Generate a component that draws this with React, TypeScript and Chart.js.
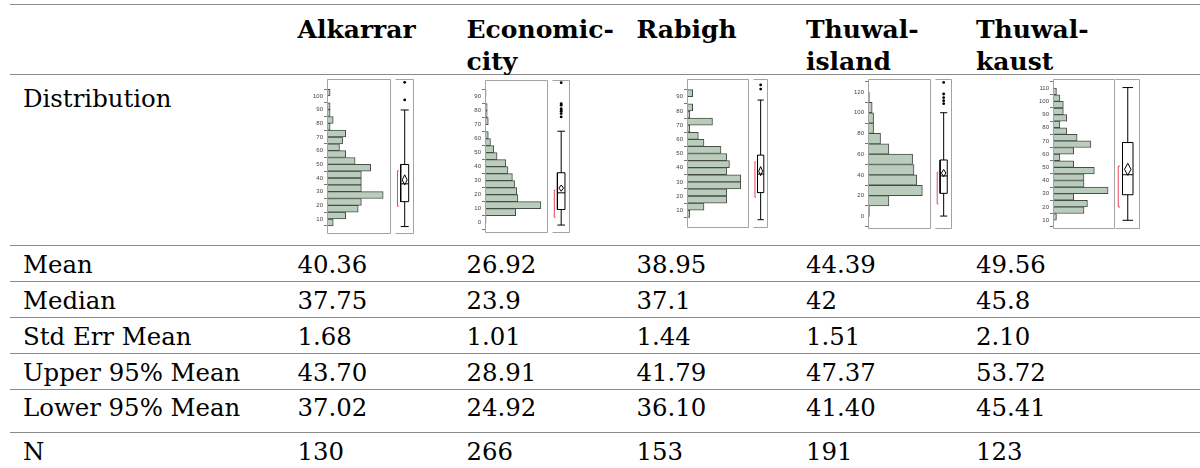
import React, { useEffect, useRef } from 'react';
import { Chart, registerables } from 'chart.js';
Chart.register(...registerables);

// ---------------- DATA ----------------
const headerLines: string[][] = [
  ['Alkarrar'],
  ['Economic-', 'city'],
  ['Rabigh'],
  ['Thuwal-', 'island'],
  ['Thuwal-', 'kaust'],
];
const distributionLabel = 'Distribution';
const rowLabels = ['Mean', 'Median', 'Std Err Mean', 'Upper 95% Mean', 'Lower 95% Mean', 'N'];

const meanText = ['40.36', '26.92', '38.95', '44.39', '49.56'];
const medianText = ['37.75', '23.9', '37.1', '42', '45.8'];
const stdErrText = ['1.68', '1.01', '1.44', '1.51', '2.10'];
const upper95Text = ['43.70', '28.91', '41.79', '47.37', '53.72'];
const lower95Text = ['37.02', '24.92', '36.10', '41.40', '45.41'];
const nText = ['130', '266', '153', '191', '123'];

// histogram bins: first lower edge, bin width, counts (ascending)
const binFirst = [5, 0, 5, 0, 10];
const binWidth = [5, 5, 5, 10, 5];
const alkarrarCounts = [2, 6, 10, 11, 18, 11, 11, 11, 14, 9, 6, 4, 5, 6, 1, 2, 1, 1, 0, 1];
const economicCounts = [1, 28, 51, 30, 29, 27, 25, 21, 19, 11, 8, 5, 3, 0, 3, 2, 2, 0, 1];
const rabighCounts = [1, 6, 14, 14, 19, 19, 14, 15, 14, 12, 6, 4, 1, 9, 1, 2, 0, 2];
const islandCounts = [1, 15, 39, 35, 33, 32, 15, 9, 4, 4, 3, 1];
const kaustCounts = [1, 9, 10, 6, 16, 9, 9, 12, 6, 2, 6, 11, 7, 4, 2, 4, 3, 3, 2, 1];
const allCounts = [alkarrarCounts, economicCounts, rabighCounts, islandCounts, kaustCounts];

// axis ranges
const yAxisMin = [4.7, -1.9, 3.3, -1.9, 8.4];
const yAxisMax = [106.8, 96.4, 96.7, 122.2, 111.8];
const countAxisMax = [20.5, 57.5, 21.9, 45.2, 18];
const tickAlkarrar = [10, 20, 30, 40, 50, 60, 70, 80, 90, 100];
const tickEconomic = [0, 10, 20, 30, 40, 50, 60, 70, 80, 90];
const tickRabigh = [10, 20, 30, 40, 50, 60, 70, 80, 90];
const tickIsland = [0, 20, 40, 60, 80, 100, 120];
const tickKaust = [10, 20, 30, 40, 50, 60, 70, 80, 90, 100, 110];
const allTicks = [tickAlkarrar, tickEconomic, tickRabigh, tickIsland, tickKaust];

// box plot statistics
const whiskerLow = [9.6, 3.2, 8.5, 8.8, 14.4];
const quartile1 = [26, 13.2, 25.5, 27.6, 32];
const medianVal = [37.75, 23.9, 37.1, 42, 45.8];
const quartile3 = [50.5, 36.8, 49, 55.2, 68];
const whiskerHigh = [86.4, 63.5, 83.5, 94.3, 105.9];
const outliers: number[][] = [
  [93, 104.6],
  [72.7, 74.8, 76.3, 77.2, 78, 80.2, 81.2, 94.7],
  [90.4, 93],
  [101.8, 104.3, 106.8, 109.8, 119.4],
  [],
];
const shortestHalfLow = [22.9, 8.2, 22.6, 18.8, 23.6];
const shortestHalfHigh = [46.4, 25.7, 44.8, 45, 51.7];

// ---------------- LAYOUT ----------------
const frameLeft = [327, 485, 687, 868, 1053];
const frameMid = [391, 548, 749, 931, 1115];
const frameRight = [417, 573, 771, 955, 1140];
const frameTop = [79, 80, 79, 79, 79];
const frameBottom = [234, 233, 228, 229, 229];
const PAD = 6;
const AXW = 24;

const colX = [297.5, 466.5, 636.5, 806, 976];
const labelX = 23;
const rowBaselines = [274, 310, 346, 382, 417, 461];
const ruleYs = [4, 74, 245, 281, 317, 353, 389, 432];
const FONT = "'DejaVu Serif', serif";
const FS = 24.4;
const HFS = 25;
const ASC_RATIO = 0.846;

const BAR_FILL = 'rgb(186,204,187)';
const BAR_EDGE = 'rgb(70,76,70)';
const FRAME = '#a3a3a3';

function framePlugin(sides: string) {
  return {
    id: 'frame' + sides,
    afterDraw(chart: any) {
      const { ctx, chartArea } = chart;
      const l = Math.round(chartArea.left) + 0.5;
      const r = Math.round(chartArea.right) - 0.5;
      const t = Math.round(chartArea.top) + 0.5;
      const b = Math.round(chartArea.bottom) - 0.5;
      ctx.save();
      ctx.strokeStyle = FRAME;
      ctx.lineWidth = 1;
      ctx.beginPath();
      if (sides === 'all') {
        ctx.rect(l, t, r - l, b - t);
      } else {
        ctx.moveTo(l, t);
        ctx.lineTo(r, t);
        ctx.lineTo(r, b);
        ctx.lineTo(l, b);
      }
      ctx.stroke();
      ctx.restore();
    },
  };
}

function Histogram({ i }: { i: number }) {
  const ref = useRef<HTMLCanvasElement>(null);
  const width = frameMid[i] - frameLeft[i] + AXW + 1;
  const height = frameBottom[i] - frameTop[i] + 2 * PAD;
  useEffect(() => {
    const data = allCounts[i]
      .map((c, k) => ({ x: c, y: binFirst[i] + (k + 0.5) * binWidth[i] }))
      .filter((d) => d.x > 0);
    const ticks = allTicks[i];
    const chart = new Chart(ref.current as HTMLCanvasElement, {
      type: 'bar',
      data: {
        datasets: [
          {
            data: data as any,
            backgroundColor: BAR_FILL,
            borderColor: BAR_EDGE,
            borderWidth: 1,
            borderSkipped: false,
            barPercentage: 1,
            categoryPercentage: 1,
          } as any,
        ],
      },
      options: {
        indexAxis: 'y',
        animation: false,
        responsive: false,
        events: [],
        layout: { padding: { top: PAD, bottom: PAD, left: 0, right: 1 } },
        plugins: { legend: { display: false }, tooltip: { enabled: false } },
        scales: {
          x: { type: 'linear', min: 0, max: countAxisMax[i], display: false },
          y: {
            type: 'linear',
            min: yAxisMin[i],
            max: yAxisMax[i],
            afterFit: (a: any) => {
              a.width = AXW;
            },
            afterBuildTicks: (a: any) => {
              a.ticks = ticks.map((v) => ({ value: v }));
            },
            grid: { drawOnChartArea: false, drawTicks: true, tickLength: 3, color: '#777' },
            border: { display: false },
            ticks: {
              autoSkip: false,
              padding: 1,
              color: '#444',
              font: { size: 6, family: "'Liberation Sans', Arial, sans-serif" },
            },
          },
        },
      } as any,
      plugins: [framePlugin('all')],
    });
    return () => chart.destroy();
  }, [i]);
  return (
    <canvas
      ref={ref}
      width={width}
      height={height}
      style={{
        position: 'absolute',
        left: frameLeft[i] - AXW,
        top: frameTop[i] - PAD,
        width,
        height,
      }}
    />
  );
}

function BoxPlot({ i }: { i: number }) {
  const ref = useRef<HTMLCanvasElement>(null);
  const width = frameRight[i] - frameMid[i] + 1;
  const height = frameBottom[i] - frameTop[i] + 2 * PAD;
  useEffect(() => {
    const c = 0.51;
    const bl = 0.3;
    const br = 0.72;
    const dw = 0.13;
    const bx = 0.13;
    const bt = 0.07;
    const mean = parseFloat(meanText[i]);
    const hi = parseFloat(upper95Text[i]);
    const lo = parseFloat(lower95Text[i]);
    const line = (pts: { x: number; y: number }[], color = '#000') => ({
      type: 'scatter',
      data: pts,
      showLine: true,
      borderColor: color,
      borderWidth: 1,
      pointRadius: 0,
      tension: 0,
      fill: false,
    });
    const datasets: any[] = [
      line([{ x: c, y: whiskerLow[i] }, { x: c, y: quartile1[i] }]),
      line([{ x: c, y: quartile3[i] }, { x: c, y: whiskerHigh[i] }]),
      line([{ x: bl, y: whiskerLow[i] }, { x: br, y: whiskerLow[i] }]),
      line([{ x: bl, y: whiskerHigh[i] }, { x: br, y: whiskerHigh[i] }]),
      line([
        { x: bl, y: quartile1[i] },
        { x: br, y: quartile1[i] },
        { x: br, y: quartile3[i] },
        { x: bl, y: quartile3[i] },
        { x: bl, y: quartile1[i] },
      ]),
      line([{ x: bl, y: medianVal[i] }, { x: br, y: medianVal[i] }]),
      line([
        { x: c, y: hi },
        { x: c + dw, y: mean },
        { x: c, y: lo },
        { x: c - dw, y: mean },
        { x: c, y: hi },
      ]),
      line(
        [
          { x: bx + bt, y: shortestHalfLow[i] },
          { x: bx, y: shortestHalfLow[i] },
          { x: bx, y: shortestHalfHigh[i] },
          { x: bx + bt, y: shortestHalfHigh[i] },
        ],
        'rgb(230,70,90)'
      ),
      {
        type: 'scatter',
        data: outliers[i].map((v) => ({ x: c, y: v })),
        pointRadius: 1.4,
        pointBackgroundColor: '#000',
        pointBorderWidth: 0,
        showLine: false,
      },
    ];
    const chart = new Chart(ref.current as HTMLCanvasElement, {
      type: 'scatter',
      data: { datasets },
      options: {
        animation: false,
        responsive: false,
        events: [],
        layout: { padding: { top: PAD, bottom: PAD, left: 0, right: 1 } },
        plugins: { legend: { display: false }, tooltip: { enabled: false } },
        scales: {
          x: { type: 'linear', min: 0, max: 1, display: false },
          y: { type: 'linear', min: yAxisMin[i], max: yAxisMax[i], display: false },
        },
      } as any,
      plugins: [framePlugin('trb')],
    });
    return () => chart.destroy();
  }, [i]);
  return (
    <canvas
      ref={ref}
      width={width}
      height={height}
      style={{
        position: 'absolute',
        left: frameMid[i],
        top: frameTop[i] - PAD,
        width,
        height,
      }}
    />
  );
}

function Txt({ x, base, children, bold }: { x: number; base: number; children: any; bold?: boolean }) {
  const fs = bold ? HFS : FS;
  return (
    <div
      style={{
        position: 'absolute',
        left: x,
        top: base - fs * ASC_RATIO,
        fontFamily: FONT,
        fontSize: fs,
        lineHeight: fs + 'px',
        fontWeight: bold ? 'bold' : 'normal',
        whiteSpace: 'nowrap',
        color: '#000',
      }}
    >
      {children}
    </div>
  );
}

export default function App() {
  const rowValues = [meanText, medianText, stdErrText, upper95Text, lower95Text, nText];
  const headerBase = [38, 70];
  return (
    <div
      style={{
        position: 'absolute',
        left: 0,
        top: 0,
        width: 1200,
        height: 468,
        background: '#fff',
        overflow: 'hidden',
      }}
    >
      {ruleYs.map((y, k) => (
        <div
          key={'r' + k}
          style={{ position: 'absolute', left: 10, top: y, width: 1190, height: 1.4, background: '#8a8a8a' }}
        />
      ))}
      {headerLines.map((lines, i) =>
        lines.map((t, j) => (
          <Txt key={'h' + i + j} x={colX[i]} base={headerBase[j]} bold>
            {t}
          </Txt>
        ))
      )}
      <Txt x={labelX} base={108}>
        {distributionLabel}
      </Txt>
      {rowLabels.map((lab, r) => (
        <Txt key={'l' + r} x={labelX} base={rowBaselines[r]}>
          {lab}
        </Txt>
      ))}
      {rowValues.map((vals, r) =>
        vals.map((v, i) => (
          <Txt key={'v' + r + '_' + i} x={colX[i]} base={rowBaselines[r]}>
            {v}
          </Txt>
        ))
      )}
      {[0, 1, 2, 3, 4].map((i) => (
        <React.Fragment key={'c' + i}>
          <Histogram i={i} />
          <BoxPlot i={i} />
        </React.Fragment>
      ))}
    </div>
  );
}
